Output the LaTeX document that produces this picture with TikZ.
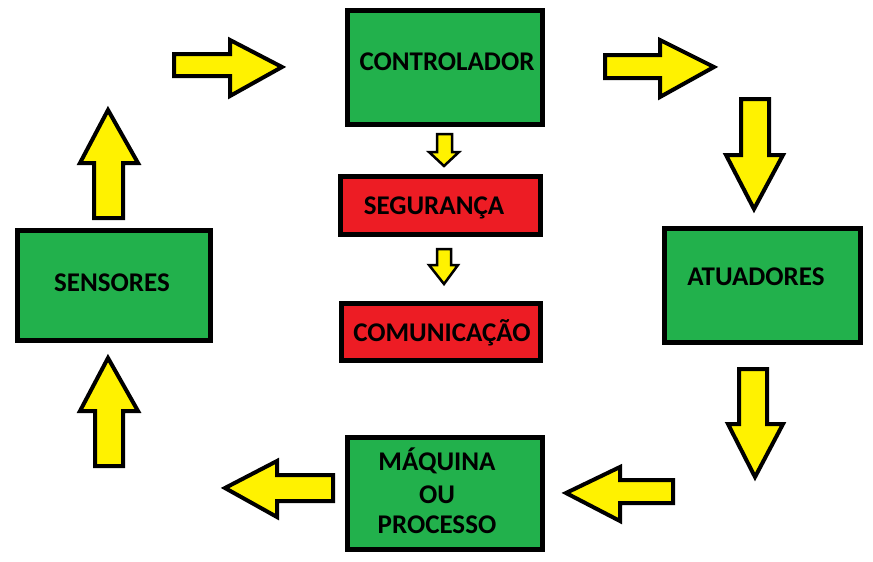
\documentclass[tikz,border=0pt]{standalone}
\usepackage{fontspec}
\setmainfont{Carlito}
\definecolor{pgreen}{RGB}{34,177,76}
\definecolor{pred}{RGB}{237,28,36}
\definecolor{pyellow}{RGB}{255,242,0}
\begin{document}
\begin{tikzpicture}[x=1pt,y=-1pt,
  box/.style={draw=black,line width=5pt,inner sep=0pt,minimum width=#1},
  gbox/.style={box=#1,fill=pgreen},
  rbox/.style={box=#1,fill=pred},
  lbl/.style={font=\fontsize{27}{32}\selectfont\bfseries,inner sep=0pt,anchor=base},
  barrow/.style={draw=black,fill=pyellow,line width=4pt,line join=miter}]
\useasboundingbox (0,0) rectangle (873,562);
% boxes
\node[gbox=195pt,minimum height=114pt] (ctrl) at (445,67.5) {};
\node[rbox=200pt,minimum height=58pt] (seg) at (440.5,205.5) {};
\node[rbox=199pt,minimum height=57pt] (com) at (441,332) {};
\node[gbox=193pt,minimum height=110pt] (sens) at (114,285.5) {};
\node[gbox=196pt,minimum height=114pt] (atu) at (762.5,285.5) {};
\node[gbox=195pt,minimum height=112pt] (maq) at (445,493.5) {};
% labels
\node[lbl] (tctrl) at (447,70) {CONTROLADOR};
\node[lbl] (tseg) at (434,214) {SEGURANÇA};
\node[lbl] (tcom) at (442,341) {COMUNICAÇÃO};
\node[lbl] (tsens) at (112,291) {SENSORES};
\node[lbl] (tatu) at (756,285) {ATUADORES};
\node[lbl] (tmaq1) at (437,470) {MÁQUINA};
\node[lbl] (tmaq2) at (437,503) {OU};
\node[lbl] (tmaq3) at (437,533) {PROCESSO};
% block arrows
% top-left, pointing right
\draw[barrow] (174,54) -- (230,54) -- (230,40) -- (282,67) -- (230,96) -- (230,76) -- (174,76) -- cycle;
% top-right, pointing right
\draw[barrow] (605,55) -- (660,55) -- (660,40) -- (714,67) -- (660,97) -- (660,78) -- (605,78) -- cycle;
% right side, pointing down
\draw[barrow] (741,99) -- (769,99) -- (769,155) -- (783,155) -- (754,209) -- (726,155) -- (741,155) -- cycle;
\draw[barrow] (739,369) -- (767,369) -- (767,424) -- (783,424) -- (755,477) -- (728,424) -- (739,424) -- cycle;
% bottom, pointing left
\draw[barrow] (673,480) -- (620,480) -- (620,467) -- (566,493) -- (620,521) -- (620,503) -- (673,503) -- cycle;
\draw[barrow] (333,475) -- (277,475) -- (277,461) -- (225,488) -- (277,517) -- (277,501) -- (333,501) -- cycle;
% left side, pointing up
\draw[barrow] (94,218) -- (94,163) -- (80,163) -- (108,110) -- (138,163) -- (123,163) -- (123,218) -- cycle;
\draw[barrow] (95,466) -- (95,411) -- (80,411) -- (108,358) -- (138,411) -- (123,411) -- (123,466) -- cycle;
% small centre arrows, pointing down
\draw[barrow,line width=2.5pt] (437,134) -- (452,134) -- (452,152) -- (459,152) -- (444,166) -- (429,152) -- (437,152) -- cycle;
\draw[barrow,line width=2.5pt] (437,249) -- (451,249) -- (451,265) -- (458,265) -- (444,284) -- (429,265) -- (437,265) -- cycle;
\end{tikzpicture}
\end{document}
